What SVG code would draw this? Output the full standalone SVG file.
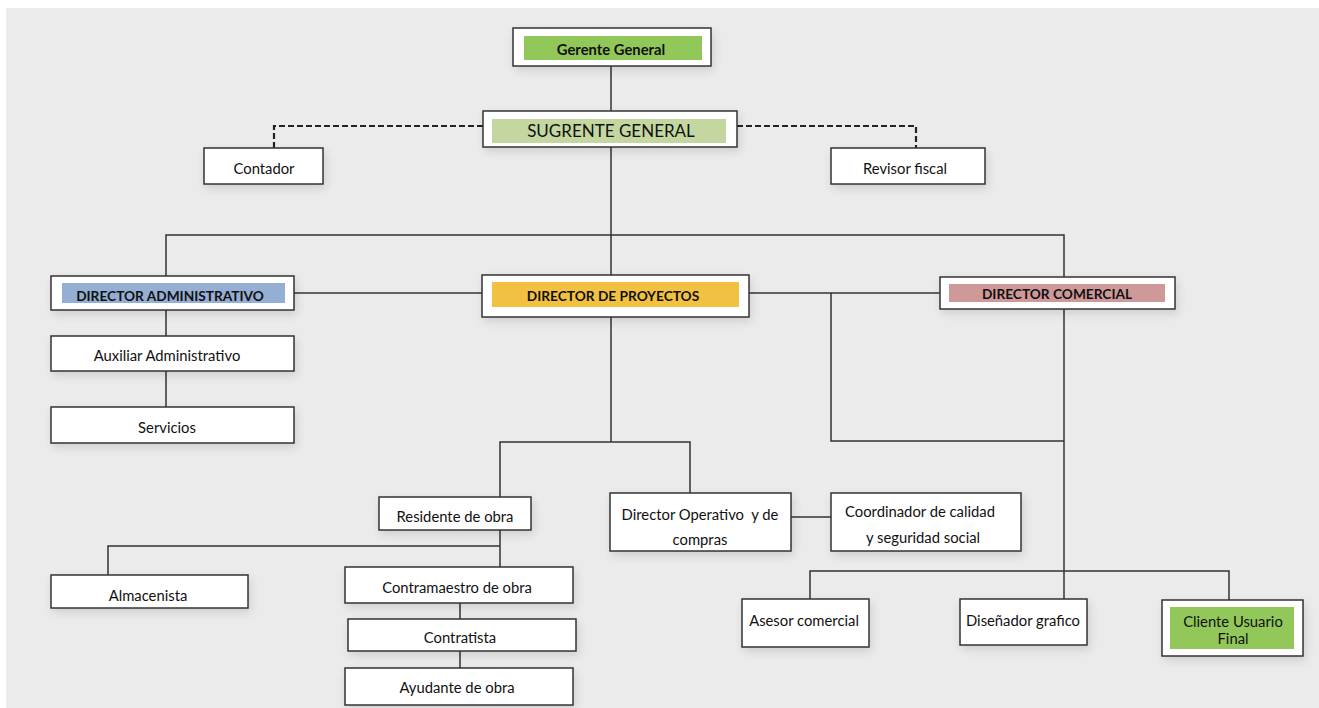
<svg xmlns="http://www.w3.org/2000/svg" width="1319" height="708" viewBox="0 0 1319 708">
<defs>
<filter id="sh" x="-20%" y="-40%" width="140%" height="180%">
<feGaussianBlur in="SourceAlpha" stdDeviation="5"/>
<feOffset dx="2" dy="4"/>
<feComponentTransfer><feFuncA type="linear" slope="0.12"/></feComponentTransfer>
<feMerge><feMergeNode/><feMergeNode in="SourceGraphic"/></feMerge>
</filter>
</defs>
<style>
.box{fill:#fff;stroke:#333;stroke-width:1.5;filter:url(#sh)}
.t{font-family:Lato,"Open Sans",sans-serif;font-size:14.8px;fill:#111;text-anchor:middle;dominant-baseline:central}
.b{font-weight:bold;font-size:13.7px}
.ln{fill:none;stroke:#333;stroke-width:1.5}
.dash{fill:none;stroke:#222;stroke-width:2.2;stroke-dasharray:6,3}
</style>
<rect width="1319" height="708" fill="#fff"/>
<rect x="6" y="8" width="1313" height="700" fill="#ebebeb"/>
<g id="connectors">
<path class="ln" d="M611 66V111"/>
<path class="dash" d="M483 126H274V148"/>
<path class="dash" d="M737 126H916V148"/>
<path class="ln" d="M611 147V275"/>
<path class="ln" d="M166 276V235H1064V277"/>
<path class="ln" d="M294 293H482"/>
<path class="ln" d="M749 293H940"/>
<path class="ln" d="M831 293V441H1064"/>
<path class="ln" d="M1064 309V599"/>
<path class="ln" d="M166 310V336"/>
<path class="ln" d="M166 371V407"/>
<path class="ln" d="M611 317V442"/>
<path class="ln" d="M500 497V442H690V493"/>
<path class="ln" d="M500 530V567"/>
<path class="ln" d="M500 546H108V575"/>
<path class="ln" d="M460 603V619"/>
<path class="ln" d="M460 651V668"/>
<path class="ln" d="M791 517H831"/>
<path class="ln" d="M810 599V571H1229V607"/>
</g>
<g id="gerente-general">
<rect class="box" x="513" y="28" width="198" height="38"/>
<rect x="524" y="36" width="178" height="24" fill="#92c85a"/>
<text class="t b" x="611" y="49" style="font-size:14.8px">Gerente General</text>
</g>
<g id="subgerente-general">
<rect class="box" x="483" y="111" width="254" height="36"/>
<rect x="492" y="119" width="234" height="24" fill="#c5d7a0"/>
<text class="t" x="611" y="130" style="font-size:17px">SUGRENTE GENERAL</text>
</g>
<g id="contador">
<rect class="box" x="204" y="148" width="119" height="36"/>
<text class="t" x="264" y="168">Contador</text>
</g>
<g id="revisor-fiscal">
<rect class="box" x="831" y="148" width="154" height="36"/>
<text class="t" x="905" y="168">Revisor fiscal</text>
</g>
<g id="director-administrativo">
<rect class="box" x="51" y="276" width="243" height="34"/>
<rect x="62" y="283" width="223" height="20" fill="#95aed3"/>
<text class="t b" x="170" y="295">DIRECTOR ADMINISTRATIVO</text>
</g>
<g id="director-proyectos">
<rect class="box" x="482" y="275" width="267" height="42"/>
<rect x="492" y="282" width="247" height="25" fill="#f2c141"/>
<text class="t b" x="613" y="295">DIRECTOR DE PROYECTOS</text>
</g>
<g id="director-comercial">
<rect class="box" x="940" y="277" width="235" height="32"/>
<rect x="949" y="284" width="216" height="18" fill="#d09999"/>
<text class="t b" x="1057" y="293">DIRECTOR COMERCIAL</text>
</g>
<g id="auxiliar-administrativo">
<rect class="box" x="51" y="336" width="243" height="35"/>
<text class="t" x="167" y="355">Auxiliar Administrativo</text>
</g>
<g id="servicios">
<rect class="box" x="51" y="407" width="243" height="36"/>
<text class="t" x="167" y="427">Servicios</text>
</g>
<g id="residente-obra">
<rect class="box" x="379" y="497" width="152" height="33"/>
<text class="t" x="455" y="516">Residente de obra</text>
</g>
<g id="director-operativo">
<rect class="box" x="610" y="493" width="181" height="58"/>
<text class="t" x="700" y="514" style="white-space:pre">Director Operativo  y de</text>
<text class="t" x="700" y="539">compras</text>
</g>
<g id="coordinador-calidad">
<rect class="box" x="831" y="493" width="190" height="58"/>
<text class="t" x="920" y="511">Coordinador de calidad</text>
<text class="t" x="923" y="537">y seguridad social</text>
</g>
<g id="almacenista">
<rect class="box" x="51" y="575" width="197" height="33"/>
<text class="t" x="148" y="595">Almacenista</text>
</g>
<g id="contramaestro">
<rect class="box" x="345" y="567" width="228" height="36"/>
<text class="t" x="457" y="587">Contramaestro de obra</text>
</g>
<g id="contratista">
<rect class="box" x="348" y="619" width="228" height="32"/>
<text class="t" x="460" y="637">Contratista</text>
</g>
<g id="ayudante-obra">
<rect class="box" x="345" y="668" width="228" height="37"/>
<text class="t" x="457" y="687">Ayudante de obra</text>
</g>
<g id="asesor-comercial">
<rect class="box" x="742" y="599" width="127" height="48"/>
<text class="t" x="804" y="620">Asesor comercial</text>
</g>
<g id="disenador-grafico">
<rect class="box" x="960" y="599" width="127" height="46"/>
<text class="t" x="1023" y="620">Diseñador grafico</text>
</g>
<g id="cliente-usuario-final">
<rect class="box" x="1162" y="600" width="141" height="56"/>
<rect x="1170" y="607" width="124" height="42" fill="#92c85a"/>
<text class="t" x="1233" y="621">Cliente Usuario</text>
<text class="t" x="1233" y="638">Final</text>
</g>
</svg>
